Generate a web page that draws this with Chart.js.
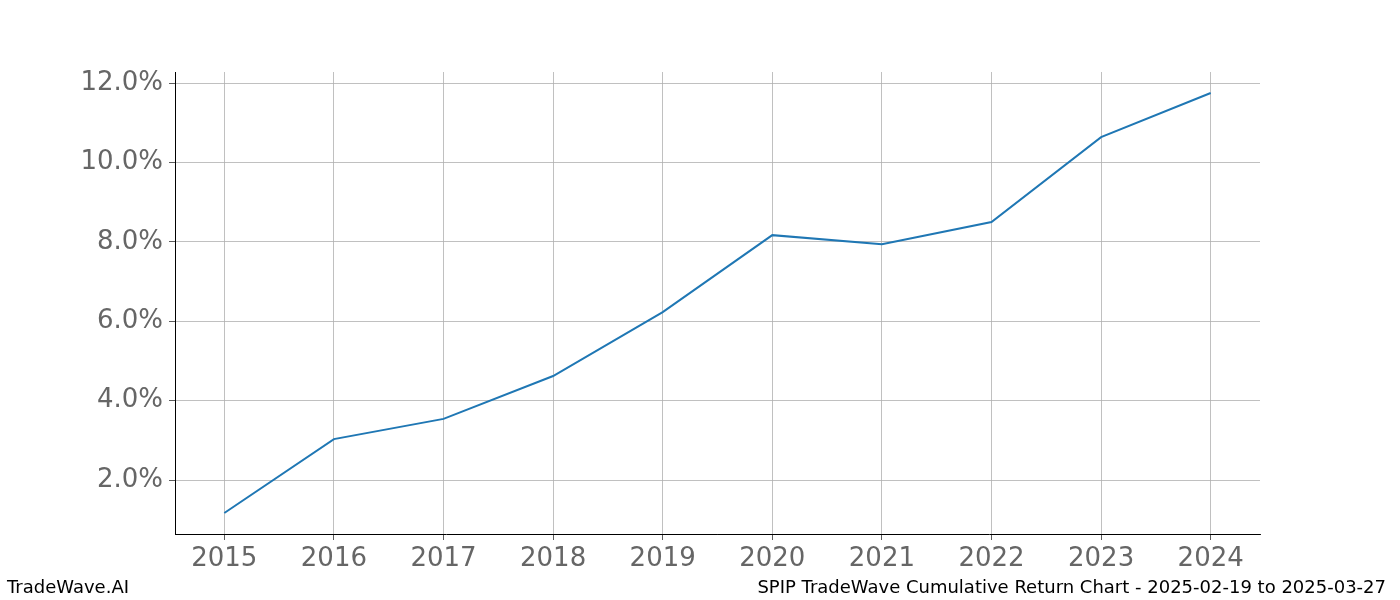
<!DOCTYPE html>
<html><head><meta charset="utf-8">
<script src="https://cdn.jsdelivr.net/npm/chart.js@4"></script>
<style>
body{margin:0;background:#fff;font-family:"DejaVu Sans",sans-serif;}
#wrap{position:relative;width:1400px;height:600px;}
.f{position:absolute;top:576px;font-size:18px;color:#000;white-space:nowrap;}
</style></head><body>
<div id="wrap"><canvas id="c" width="1400" height="600"></canvas>
<div class="f" style="left:7px">TradeWave.AI</div>
<div class="f" style="right:14px">SPIP TradeWave Cumulative Return Chart - 2025-02-19 to 2025-03-27</div>
</div>
<script>
const years=[2015,2016,2017,2018,2019,2020,2021,2022,2023,2024];
const returns=[1.17,3.03,3.54,4.62,6.23,8.17,7.94,8.50,10.64,11.75];
const yTicks=[2,4,6,8,10,12];
new Chart(document.getElementById('c'),{
type:'line',
data:{datasets:[{data:years.map((y,i)=>({x:y,y:returns[i]})),borderColor:'#1f77b4',borderWidth:2,pointRadius:0,tension:0,fill:false}]},
options:{responsive:false,animation:false,
layout:{padding:{top:72,right:140,left:0,bottom:0}},
plugins:{legend:{display:false},tooltip:{enabled:false}},
scales:{
x:{type:'linear',min:2014.55,max:2024.45,
afterBuildTicks:s=>{s.ticks=years.map(v=>({value:v}));},
afterFit:s=>{s.height=66;},
ticks:{font:{size:26,family:'DejaVu Sans'},color:'#666',padding:4,maxRotation:0,callback:v=>String(v)},
grid:{color:'#b0b0b0',lineWidth:0.8,tickLength:6,tickColor:'#333'},
border:{color:'#000',width:1}},
y:{min:0.64,max:12.28,
afterBuildTicks:s=>{s.ticks=yTicks.map(v=>({value:v}));},
afterFit:s=>{s.width=175;},
ticks:{font:{size:26,family:'DejaVu Sans'},color:'#666',padding:6,callback:v=>v.toFixed(1)+'%'},
grid:{color:'#b0b0b0',lineWidth:0.8,tickLength:6,tickColor:'#333'},
border:{color:'#000',width:1}}
}}});
</script></body></html>
